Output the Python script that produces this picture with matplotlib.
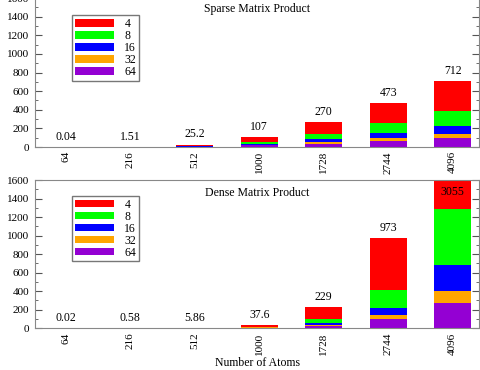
import matplotlib
matplotlib.use('Agg')
import matplotlib.pyplot as plt
import numpy as np
from matplotlib.ticker import MultipleLocator

plt.rcParams['font.family'] = ['Liberation Serif', 'DejaVu Serif']

atoms = ['64', '216', '512', '1000', '1728', '2744', '4096']
procs = ['4', '8', '16', '32', '64']
colors = ['#ff0000', '#00ff00', '#0000ff', '#ffa500', '#9400d3']

# time (s) for each processor count, sparse product
sparse_4 = [0.04, 1.51, 25.2, 107, 270, 473, 712]
sparse_8 = [0.02, 0.8, 12, 54, 137, 258, 384]
sparse_16 = [0.01, 0.5, 7, 36, 83, 151, 222]
sparse_32 = [0.01, 0.4, 4, 26, 50, 94, 144]
sparse_64 = [0.01, 0.3, 3, 18, 36, 61, 97]
sparse_labels = ['0.04', '1.51', '25.2', '107', '270', '473', '712']

# dense product
dense_4 = [0.02, 0.58, 5.86, 37.6, 229, 973, 3055]
dense_8 = [0.01, 0.3, 3, 18, 97, 413, 1284]
dense_16 = [0.01, 0.2, 2, 12, 54, 219, 686]
dense_32 = [0.01, 0.15, 1.5, 9, 38, 140, 406]
dense_64 = [0.01, 0.1, 1, 7, 27, 97, 270]
dense_labels = ['0.02', '0.58', '5.86', '37.6', '229', '973', '3055']

fig = plt.figure(figsize=(4.8, 3.7), dpi=100)
ax1 = fig.add_axes([0.073, 0.6027, 0.925, 0.4024])
ax2 = fig.add_axes([0.073, 0.1127, 0.925, 0.4008])

x = np.arange(len(atoms))
ymax = 1600


def panel(ax, series, labels, title, title_y, leg_y):
    for vals, c, p in zip(series, colors, procs):
        ax.bar(x, vals, width=0.57, color=c, label=p, zorder=2)
    for xi, v, lab in zip(x, series[0], labels):
        if v > ymax:
            ax.annotate(lab, (xi, ymax), xytext=(0, -4), textcoords='offset points',
                        ha='center', va='top', fontsize=8.5, zorder=3)
        else:
            ax.annotate(lab, (xi, v), xytext=(0, 3), textcoords='offset points',
                        ha='center', va='bottom', fontsize=8.5, zorder=3)
    ax.set_xlim(-0.48, 6.41)
    ax.set_ylim(0, ymax)
    ax.set_xticks(x)
    ax.set_xticklabels(atoms, rotation=90)
    ax.yaxis.set_major_locator(MultipleLocator(200))
    ax.yaxis.set_minor_locator(MultipleLocator(100))
    ax.tick_params(axis='y', which='both', direction='in', left=True, right=True,
                   labelsize=8, color='#555555', pad=4)
    ax.tick_params(axis='y', which='major', length=5)
    ax.tick_params(axis='y', which='minor', length=2.5)
    ax.tick_params(axis='x', length=0, labelsize=8, pad=3)
    for s in ax.spines.values():
        s.set_color('#888888')
    ax.text(0.5, title_y, title, transform=ax.transAxes, ha='center', va='center',
            fontsize=8.5)
    leg = ax.legend(loc='upper left', bbox_to_anchor=(0.083, leg_y), fontsize=8.5,
                    fancybox=False, framealpha=1, edgecolor='#777777',
                    handlelength=3.3, handleheight=0.6, labelspacing=0.0,
                    handletextpad=0.9, borderpad=0.25, borderaxespad=0)
    leg.get_frame().set_linewidth(1.0)
    ax.set_ylabel('T(s)', fontsize=8.5)
    ax.yaxis.set_label_coords(-0.079, 0.5)


panel(ax1, [sparse_4, sparse_8, sparse_16, sparse_32, sparse_64], sparse_labels,
      'Sparse Matrix Product', 0.927, 0.886)
panel(ax2, [dense_4, dense_8, dense_16, dense_32, dense_64], dense_labels,
      'Dense Matrix Product', 0.912, 0.895)
ax2.set_xlabel('Number of Atoms', fontsize=8.5, labelpad=1.5)

fig.savefig('out.png', dpi=100)
